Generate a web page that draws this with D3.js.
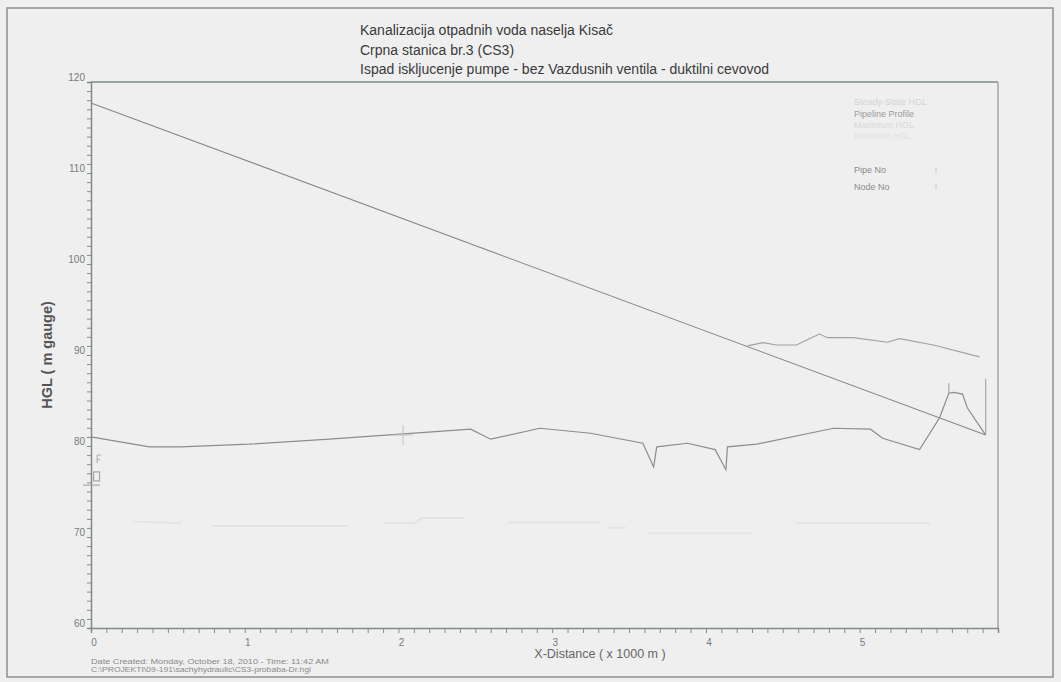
<!DOCTYPE html>
<html><head><meta charset="utf-8">
<script src="https://cdn.jsdelivr.net/npm/d3@7"></script>
<style>
body{margin:0;background:#efefef;}
svg{display:block;font-family:"Liberation Sans",Arial,sans-serif;}
</style></head><body>
<svg id="c" width="1061" height="682"></svg>
<script>
const titleLines = ["Kanalizacija otpadnih voda naselja Kisač","Crpna stanica br.3 (CS3)","Ispad iskljucenje pumpe - bez Vazdusnih ventila - duktilni cevovod"];
const xTicks = [0,1,2,3,4,5];
const yTicks = [60,70,80,90,100,110,120];
const steadyHGL = [[0,117.7],[5.82,81.2]];
const pipeProfile = [[0,81.0],[0.38,79.9],[0.58,79.9],[1.03,80.2],[1.55,80.75],[2.01,81.3],[2.47,81.85],[2.6,80.75],[2.92,81.95],[3.25,81.4],[3.59,80.3],[3.66,77.7],[3.68,79.9],[3.88,80.3],[4.06,79.6],[4.13,77.4],[4.14,79.9],[4.33,80.2],[4.83,81.95],[5.07,81.85],[5.15,80.85],[5.39,79.6],[5.52,83.1],[5.58,85.8],[5.61,85.9],[5.67,85.7],[5.70,84.2],[5.82,81.2]];
const maxHGL = [[4.27,91.0],[4.37,91.35],[4.46,91.1],[4.59,91.1],[4.70,92.0],[4.74,92.3],[4.79,91.9],[4.96,91.9],[5.18,91.4],[5.26,91.8],[5.48,91.1],[5.78,89.8]];
const minHGL = [
  [[0.27,71.7],[0.59,71.5]],
  [[0.79,71.2],[1.67,71.2]],
  [[1.91,71.5],[2.11,71.5],[2.15,72.1],[2.43,72.1]],
  [[2.71,71.6],[3.31,71.6]],
  [[3.36,71.0],[3.48,71.0]],
  [[3.62,70.4],[4.30,70.4]],
  [[4.58,71.5],[5.46,71.5]]
];
const nodeMarks = [[[5.58,86.9],[5.58,85.8]],[[5.82,87.4],[5.82,81.3]]];
const legendItems = ["Steady-State HGL","Pipeline Profile","Maximum HGL","Minimum HGL","Pipe No","Node No"];
const legendColors = ["#d4d4d4","#9a9a9a","#d8d8d8","#e2e2e2","#8a8a8a","#8a8a8a"];
const legendY = [102,114,125,136,170,187];
const footerLines = ["Date Created: Monday, October 18, 2010 - Time: 11:42 AM","C:\\PROJEKTI\\09-191\\sachyhydraulic\\CS3-probaba-Dr.hgl"];

const svg = d3.select("#c");
svg.append("rect").attr("width",1061).attr("height",682).attr("fill","#efefef");
svg.append("rect").attr("x",7).attr("y",8).attr("width",1046).attr("height",669)
  .attr("fill","none").attr("stroke","#8a938e").attr("stroke-width",1.5);

const L=91,R=998,T=82,B=628;
const x = d3.scaleLinear().domain([0,5.9]).range([L,R]);
const y = d3.scaleLinear().domain([60,120]).range([B,T]);
const axc = "#7f8c85";

svg.append("line").attr("x1",L).attr("x2",R).attr("y1",T).attr("y2",T).attr("stroke",axc).attr("stroke-width",1.5);
svg.append("line").attr("x1",R).attr("x2",R).attr("y1",T).attr("y2",B).attr("stroke","#a0a8a4").attr("stroke-width",1.5);

const gx = svg.append("g").attr("transform",`translate(0,${B})`)
  .call(d3.axisBottom(x).tickValues(d3.range(0,59).map(i=>i/10)).tickSize(5).tickFormat(""));
const gy = svg.append("g").attr("transform",`translate(${L},0)`)
  .call(d3.axisLeft(y).tickValues(d3.range(60,121)).tickSize(4).tickFormat(""));
[gx,gy].forEach(g=>{g.select(".domain").attr("stroke",axc).attr("stroke-width",1.5);g.selectAll(".tick line").attr("stroke",axc);});

svg.append("g").selectAll("text").data(xTicks).join("text")
  .attr("x",d=>x(d)+3).attr("y",B+18).attr("text-anchor","middle")
  .attr("font-size",10).attr("fill","#7a7a7a").text(d=>d);
svg.append("g").selectAll("text").data(yTicks).join("text")
  .attr("x",L-6).attr("y",d=>y(d)-1).attr("text-anchor","end")
  .attr("font-size",10).attr("fill","#7a7a7a").text(d=>d);

svg.append("g").selectAll("text").data(titleLines).join("text")
  .attr("x",360).attr("y",(d,i)=>35+i*19.5).attr("font-size",14).attr("fill","#3a3a3a").text(d=>d);

svg.append("text").attr("transform","translate(52,355) rotate(-90)").attr("text-anchor","middle")
  .attr("font-size",14.5).attr("font-weight","bold").attr("fill","#555").text("HGL ( m gauge)");
svg.append("text").attr("x",600).attr("y",658).attr("text-anchor","middle")
  .attr("font-size",12.5).attr("fill","#666").text("X-Distance ( x 1000 m )");
const footerLen = [238,220];
svg.append("g").selectAll("text").data(footerLines).join("text")
  .attr("x",91).attr("y",(d,i)=>664+i*7.5).attr("font-size",7.5).attr("fill","#8a8a8a")
  .attr("textLength",(d,i)=>footerLen[i]).attr("lengthAdjust","spacingAndGlyphs").text(d=>d);

svg.append("g").selectAll("text").data(legendItems).join("text")
  .attr("x",854).attr("y",(d,i)=>legendY[i]+3).attr("font-size",9).attr("fill",(d,i)=>legendColors[i]).text(d=>d);
svg.append("g").selectAll("line").data(legendY.slice(4)).join("line")
  .attr("x1",936).attr("x2",936).attr("y1",d=>d-3).attr("y2",d=>d+3).attr("stroke","#c8c8c8");

const line = d3.line().x(d=>x(d[0])).y(d=>y(d[1]));
minHGL.forEach(s=>svg.append("path").attr("d",line(s)).attr("fill","none").attr("stroke","#e4e4e4").attr("stroke-width",2));
svg.append("path").attr("d",line(steadyHGL)).attr("fill","none").attr("stroke","#888").attr("stroke-width",1.1);
svg.append("path").attr("d",line(pipeProfile)).attr("fill","none").attr("stroke","#8c8c8c").attr("stroke-width",1.2);
svg.append("path").attr("d",line(maxHGL)).attr("fill","none").attr("stroke","#a2a2a2").attr("stroke-width",1.2);
nodeMarks.forEach(s=>svg.append("path").attr("d",line(s)).attr("fill","none").attr("stroke","#a8a8a8").attr("stroke-width",1.2));

const cross = [2.03,81.2];
svg.append("line").attr("x1",x(cross[0])).attr("x2",x(cross[0])).attr("y1",y(cross[1])-10).attr("y2",y(cross[1])+10).attr("stroke","#c4c4c4");
svg.append("line").attr("x1",x(cross[0])-10).attr("x2",x(cross[0])+10).attr("y1",y(cross[1])).attr("y2",y(cross[1])).attr("stroke","#c4c4c4");
const startMark = [0.03,76.6];
svg.append("rect").attr("x",x(startMark[0])-2).attr("y",y(startMark[1])-5).attr("width",6).attr("height",9).attr("fill","none").attr("stroke","#999");
svg.append("line").attr("x1",x(0)-8).attr("x2",x(0)+9).attr("y1",y(75.7)).attr("y2",y(75.7)).attr("stroke","#999");
svg.append("path").attr("d",`M${x(0.04)},${y(79.0)}v8M${x(0.04)},${y(79.0)}h4M${x(0.04)},${y(78.5)}h3`).attr("fill","none").attr("stroke","#aaa");
</script>
</body></html>
